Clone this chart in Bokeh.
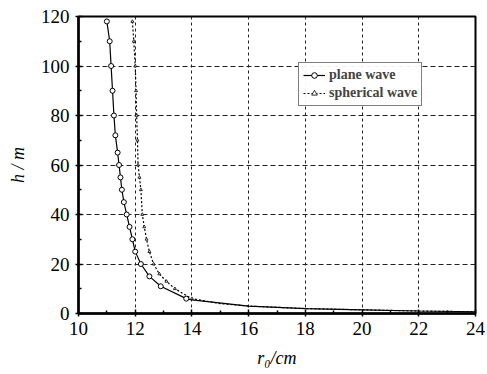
from bokeh.plotting import figure
from bokeh.models import Legend, LegendItem, FixedTicker
from bokeh.embed import file_html
from bokeh.resources import INLINE

# data
plane_r = [11.0, 11.1, 11.15, 11.2, 11.25, 11.3, 11.38, 11.43, 11.48, 11.53, 11.6, 11.7, 11.8, 11.9, 12.0, 12.2, 12.5, 12.9, 13.8, 14.0, 16.0, 18.0, 20.0, 22.0, 24.0]
plane_h = [118, 110, 100, 90, 80, 72, 65, 60, 55, 50, 45, 40, 35, 30, 25, 20, 15, 11, 6, 5.5, 3, 2, 1.5, 1, 0.7]
sph_r = [11.9, 11.95, 12.0, 12.03, 12.05, 12.08, 12.1, 12.15, 12.2, 12.25, 12.32, 12.4, 12.5, 12.65, 12.85, 13.1, 13.4, 14.0, 15.0, 16.0, 18.0, 20.0, 22.0, 24.0]
sph_h = [118, 110, 100, 90, 80, 70, 60, 55, 50, 40, 35, 30, 25, 20, 16, 13, 10, 6, 4, 3, 2, 1.5, 1, 0.7]
x_ticks = [10, 12, 14, 16, 18, 20, 22, 24]
y_ticks = [0, 20, 40, 60, 80, 100, 120]
labels = ["plane wave", "spherical wave"]

FONT = "Liberation Serif"

p = figure(width=487, height=374, output_backend="svg", toolbar_location=None,
           x_range=(10, 24), y_range=(0, 120),
           min_border_left=78, min_border_right=12, min_border_top=16, min_border_bottom=61)
p.outline_line_color = "black"
p.outline_line_width = 2
p.background_fill_color = "white"
p.border_fill_color = "white"

for ax in (p.xaxis[0], p.yaxis[0]):
    ax.axis_line_color = "black"
    ax.axis_line_width = 2.5
    ax.major_tick_in = 4
    ax.major_tick_out = 3
    ax.major_tick_line_width = 1.5
    ax.minor_tick_in = 3
    ax.minor_tick_out = 0
    ax.minor_tick_line_width = 1.5
    ax.major_label_text_font = FONT
    ax.major_label_text_font_size = "19px"
    ax.major_label_text_color = "black"
    ax.axis_label_text_font = FONT
    ax.axis_label_text_font_size = "18px"
    ax.axis_label_text_font_style = "italic"
    ax.axis_label_text_color = "black"

p.xaxis.ticker = FixedTicker(ticks=x_ticks, minor_ticks=[11, 13, 15, 17, 19, 21, 23])
p.yaxis.ticker = FixedTicker(ticks=y_ticks, minor_ticks=[10, 30, 50, 70, 90, 110])
p.xaxis.major_label_standoff = 5
p.yaxis.major_label_standoff = 6
p.xaxis.axis_label = "r\u2080/cm"
p.yaxis.axis_label = "h / m"
p.xaxis.axis_label_standoff = 10
p.yaxis.axis_label_standoff = 10

p.xgrid.grid_line_color = "#222222"
p.ygrid.grid_line_color = "#222222"
p.xgrid.grid_line_dash = "3 3"
p.ygrid.grid_line_dash = "5 3"
p.xgrid.grid_line_width = 1
p.ygrid.grid_line_width = 1

l1 = p.line(plane_r, plane_h, line_color="black", line_width=1.2)
m1 = p.scatter(plane_r[:19], plane_h[:19], marker="circle", size=5, fill_color="white", line_color="black", line_width=1)
l2 = p.line(sph_r, sph_h, line_color="black", line_width=1.2, line_dash="2 2")
m2 = p.scatter(sph_r[:18], sph_h[:18], marker="triangle", size=3, fill_color="white", line_color="black", line_width=0.8)

legend = Legend(items=[LegendItem(label=labels[0], renderers=[l1, m1]),
                       LegendItem(label=labels[1], renderers=[l2, m2])],
                location=(220, 207))
legend.label_text_font = FONT
legend.label_text_font_size = "14px"
legend.label_text_font_style = "bold"
legend.border_line_color = "black"
legend.border_line_width = 1.5
legend.glyph_width = 22
legend.glyph_height = 14
legend.label_height = 14
legend.spacing = 2
legend.padding = 4
legend.margin = 0
legend.label_standoff = 4
p.add_layout(legend, "center")

open("out.html", "w").write(file_html(p, INLINE))
